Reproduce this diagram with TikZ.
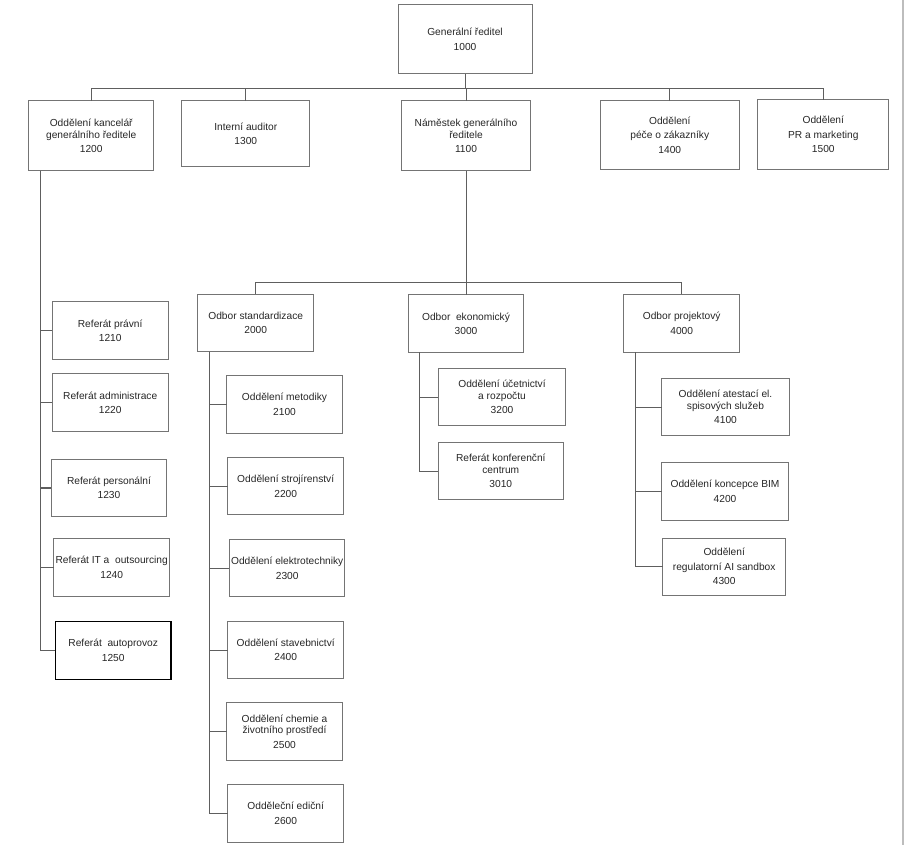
\documentclass[tikz,border=0pt]{standalone}
\usepackage{fontspec}
\setmainfont{Liberation Sans}
\usetikzlibrary{calc}
\definecolor{cara}{HTML}{5E5E5E}
\definecolor{ramecek}{HTML}{747474}
\definecolor{okraj}{HTML}{BDBDBD}

\begin{document}
\begin{tikzpicture}[x=1pt,y=-1pt,
  utvar/.style={draw=ramecek, line width=1pt, inner sep=0pt, outer sep=0pt,
    align=center, text=black!85, font=\fontsize{10.2}{11.5}\selectfont,
    minimum width=115.5pt, minimum height=57.5pt},
  spoj/.style={draw=cara, line width=1pt}]
  \useasboundingbox (0,0) rectangle (904,845);
  \draw[okraj, line width=1.3pt] (903,0) -- (903,845);

  % Vedeni
  \node[utvar, minimum width=134, minimum height=69] (gr) at (465,39.5) {Generální ředitel\\[3pt]1000};
  \node[utvar, minimum width=125, minimum height=69.7] (u1200) at (91.2,135.8) {Oddělení kancelář\\generálního ředitele\\[3pt]1200};
  \node[utvar, minimum width=128.3, minimum height=66] (u1300) at (245.8,133.7) {Interní auditor\\[3pt]1300};
  \node[utvar, minimum width=128.6, minimum height=69.7] (u1100) at (466,135.8) {Náměstek generálního\\ředitele\\[3pt]1100};
  \node[utvar, minimum width=139, minimum height=68.6] (u1400) at (669.8,135) {Oddělení\\[3pt]péče o zákazníky\\[3pt]1400};
  \node[utvar, minimum width=130.7, minimum height=70] (u1500) at (823.3,134.7) {Oddělení\\[3pt]PR a marketing\\[3pt]1500};

  % Referaty 12xx
  \node[utvar, minimum width=115.7] (u1210) at (110.2,330.7) {Referát právní\\[3pt]1210};
  \node[utvar, minimum width=115.7] (u1220) at (110.2,402.7) {Referát administrace\\[3pt]1220};
  \node[utvar] (u1230) at (109,488) {Referát personální\\[3pt]1230};
  \node[utvar] (u1240) at (111.7,567.5) {Referát IT a\ \ outsourcing\\[3pt]1240};
  \node[utvar, draw=black, line width=1.4pt, minimum width=115.7, minimum height=58] (u1250) at (113.2,650.3) {Referát\ \ autoprovoz\\[3pt]1250};

  % Odbory
  \node[utvar] (u2000) at (255.7,322.8) {Odbor standardizace\\[3pt]2000};
  \node[utvar] (u3000) at (466,323.7) {Odbor\ \ ekonomický\\[3pt]3000};
  \node[utvar, minimum height=58] (u4000) at (681.7,323.3) {Odbor projektový\\[3pt]4000};

  \node[utvar] (u2100) at (284.5,404.5) {Oddělení metodiky\\[3pt]2100};
  \node[utvar] (u2200) at (285.7,486.2) {Oddělení strojírenství\\[3pt]2200};
  \node[utvar] (u2300) at (287.2,568.2) {Oddělení elektrotechniky\\[3pt]2300};
  \node[utvar] (u2400) at (285.7,650) {Oddělení stavebnictví\\[3pt]2400};
  \node[utvar] (u2500) at (284.5,731.5) {Oddělení chemie a\\životního prostředí\\[3pt]2500};
  \node[utvar, minimum height=58] (u2600) at (285.7,813.3) {Odděleční ediční\\[3pt]2600};

  \node[utvar, minimum width=127.4] (u3200) at (502,397) {Oddělení účetnictví\\a rozpočtu\\[3pt]3200};
  \node[utvar, minimum width=125] (u3010) at (500.8,471.2) {Referát konferenční\\centrum\\[3pt]3010};

  \node[utvar, minimum width=127.6] (u4100) at (725.5,407) {Oddělení atestací el.\\spisových služeb\\[3pt]4100};
  \node[utvar, minimum width=126.6] (u4200) at (725,491.3) {Oddělení koncepce BIM\\[3pt]4200};
  \node[utvar, minimum width=123, minimum height=56.7] (u4300) at (724.2,566.7) {Oddělení\\[3pt]regulatorní AI sandbox\\[3pt]4300};

  % Spojnice
  \coordinate (bus1) at (465,89);
  \coordinate (bus2) at (466,282.7);
  \draw[spoj] (gr.south) -- (bus1);
  \foreach \n in {u1200,u1300,u1100,u1400,u1500}
    \draw[spoj] (\n.north) |- (bus1);
  \draw[spoj] (u1100.south) -- (bus2);
  \foreach \n in {u2000,u4000}
    \draw[spoj] (\n.north) |- (bus2);
  \draw[spoj] (bus2) -- (u3000.north);

  \coordinate (k1200) at ($(u1200.south west)+(12,0)$);
  \coordinate (k2000) at ($(u2000.south west)+(12,0)$);
  \coordinate (k3000) at ($(u3000.south west)+(11.7,0)$);
  \coordinate (k4000) at ($(u4000.south west)+(11.7,0)$);
  \foreach \n in {u1210,u1220,u1230,u1240,u1250}
    \draw[spoj, line width=1.4pt] (k1200) |- (\n.west);
  \foreach \n in {u2100,u2200,u2300,u2400,u2500,u2600}
    \draw[spoj] (k2000) |- (\n.west);
  \foreach \n in {u3200,u3010}
    \draw[spoj] (k3000) |- (\n.west);
  \foreach \n in {u4100,u4200,u4300}
    \draw[spoj] (k4000) |- (\n.west);

\end{tikzpicture}
\end{document}
